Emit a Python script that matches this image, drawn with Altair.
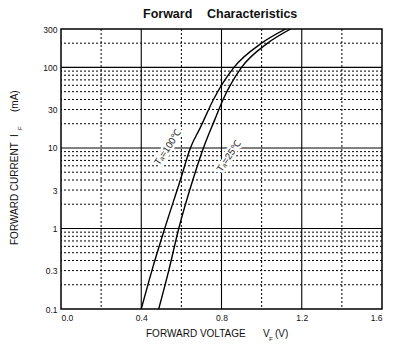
import altair as alt
import pandas as pd

# ---- data ----
V_100 = [0.40, 0.453, 0.517, 0.595, 0.645, 0.695, 0.76, 0.862, 1.0, 1.12]
I_100 = [0.1, 0.3, 1, 4, 10, 18, 40, 100, 200, 300]
V_25 = [0.487, 0.537, 0.587, 0.657, 0.71, 0.765, 0.808, 0.90, 1.03, 1.145]
I_25 = [0.1, 0.3, 1, 4, 10, 22, 40, 100, 200, 300]

x_ticks = [0.0, 0.4, 0.8, 1.2, 1.6]
y_ticks = [0.1, 0.3, 1, 3, 10, 30, 100, 300]
x_major = [0.4, 0.8, 1.2]
x_minor = [0.2, 0.6, 1.0, 1.4]
y_major = [1, 10, 100]
y_minor = [m * d for d in [0.1, 1, 10, 100] for m in range(2, 10) if m * d < 300]

label_text = ["T\u2090=100\u2103", "T\u2090=25\u2103"]
label_v = [0.532, 0.835]
label_i = [10.1, 7.8]

FONT = "Liberation Sans"

xs = alt.Scale(domain=[0, 1.6], nice=False, zero=False)
ys = alt.Scale(type="log", domain=[0.1, 300], nice=False)

curves = pd.DataFrame(
    {"V": V_100 + V_25, "I": I_100 + I_25,
     "T": ["100"] * len(V_100) + ["25"] * len(V_25)}
)

base_x = alt.X("v:Q", scale=xs,
               axis=alt.Axis(values=x_ticks, format=".1f", title=None, grid=False,
                             ticks=False, domain=False, labelFont=FONT, labelFontSize=8.5,
                             labelColor="#111", labelPadding=4))

vminor = alt.Chart(pd.DataFrame({"v": x_minor})).mark_rule(
    color="black", strokeWidth=1, strokeDash=[2, 2]).encode(x=base_x)
vmajor = alt.Chart(pd.DataFrame({"v": x_major})).mark_rule(
    color="black", strokeWidth=1.1).encode(x=alt.X("v:Q", scale=xs))

hminor = alt.Chart(pd.DataFrame({"i": y_minor})).mark_rule(
    color="black", strokeWidth=1, strokeDash=[2, 2]).encode(
    y=alt.Y("i:Q", scale=ys,
            axis=alt.Axis(values=y_ticks, title=None, grid=False, ticks=False,
                          domain=False, labelFont=FONT, labelFontSize=8.5,
                          labelColor="#111", labelPadding=4, format="~g")))
hmajor = alt.Chart(pd.DataFrame({"i": y_major})).mark_rule(
    color="black", strokeWidth=1.1).encode(y=alt.Y("i:Q", scale=ys))

lines = alt.Chart(curves).mark_line(color="black", strokeWidth=1.4, interpolate="monotone",
                                    clip=True).encode(
    x=alt.X("V:Q", scale=xs), y=alt.Y("I:Q", scale=ys), detail="T:N", order="I:Q")

lab_df = pd.DataFrame({"t": label_text, "v": label_v, "i": label_i})
labels_halo = alt.Chart(lab_df).mark_text(
    angle=304, font=FONT, fontSize=9.5, color="white", stroke="white", strokeWidth=5).encode(
    x=alt.X("v:Q", scale=xs), y=alt.Y("i:Q", scale=ys), text="t:N")
labels = alt.Chart(lab_df).mark_text(
    angle=304, font=FONT, fontSize=9.5, color="#222").encode(
    x=alt.X("v:Q", scale=xs), y=alt.Y("i:Q", scale=ys), text="t:N")


def txt(s, x, y, size=10, angle=0, align="left", baseline="alphabetic", weight="normal"):
    return alt.Chart(pd.DataFrame({"s": [s]})).mark_text(
        font=FONT, fontSize=size, angle=angle, align=align, baseline=baseline,
        fontWeight=weight, color="#111").encode(
        x=alt.value(x), y=alt.value(y), text="s:N")


title1 = txt("Forward", 82, -11, size=12.5, weight="bold")
title2 = txt("Characteristics", 146, -11, size=12.5, weight="bold")

xt1 = txt("FORWARD VOLTAGE", 85, 308)
xt2 = txt("V", 202, 308)
xt3 = txt("F", 208, 312, size=6)
xt4 = txt("(V)", 214, 308)

yt1 = txt("FORWARD CURRENT", -46, 216, angle=270, baseline="middle")
yt2 = txt("I", -46, 108, angle=270, baseline="middle")
yt3 = txt("F", -41, 101, size=6, angle=270, baseline="middle")
yt4 = txt("(mA)", -46, 83, angle=270, baseline="middle")

chart = alt.layer(
    vminor, hminor, vmajor, hmajor, labels_halo, lines, labels,
    title1, title2, xt1, xt2, xt3, xt4, yt1, yt2, yt3, yt4
).properties(
    width=321, height=280,
    autosize=alt.AutoSizeParams(type="none"),
    padding={"left": 61, "top": 29, "right": 21, "bottom": 42},
).configure_view(stroke="black", strokeWidth=1.5)

chart.save("out.html", embed_options={"renderer": "svg", "actions": False})
